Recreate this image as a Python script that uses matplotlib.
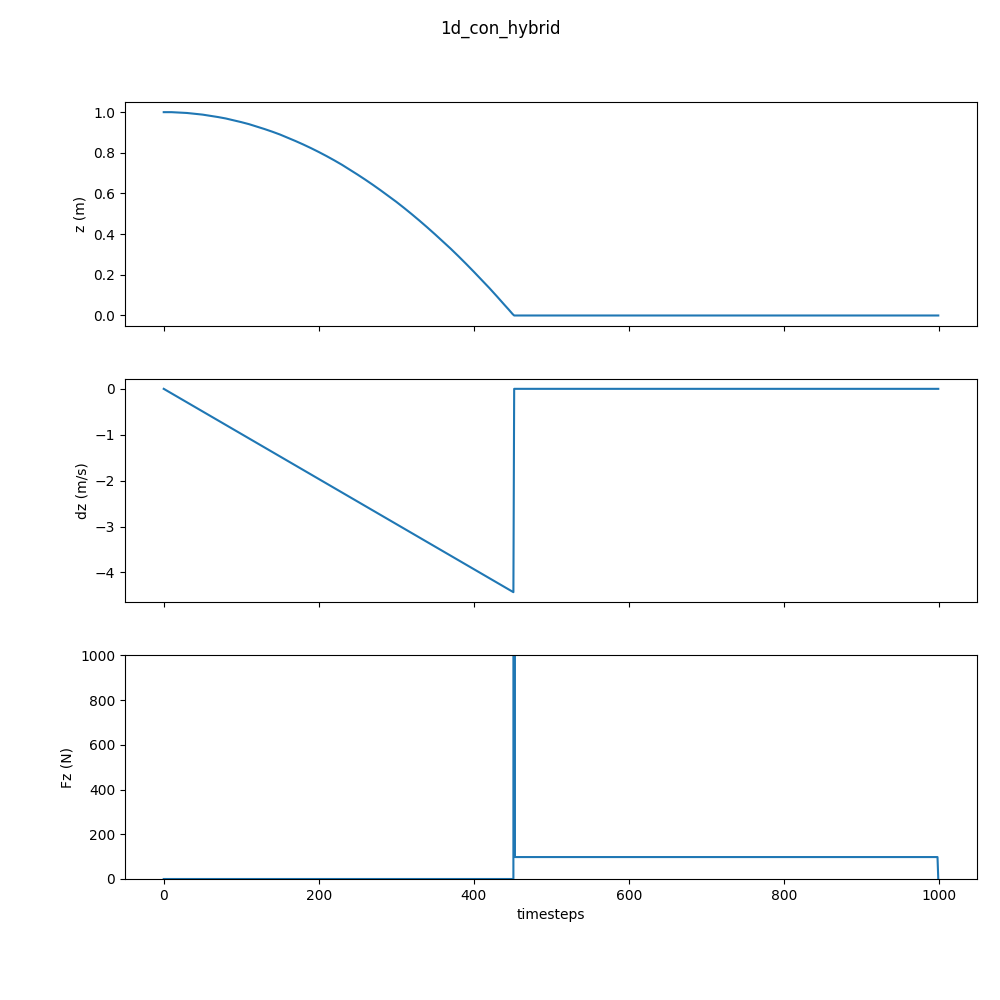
import matplotlib
matplotlib.use("Agg")
import matplotlib.pyplot as plt

# z (m) read at selected timesteps
z_t = [0, 10, 20, 30, 40, 50, 60, 70, 80, 90, 100, 110, 120, 130, 140, 150,
       160, 170, 180, 190, 200, 210, 220, 230, 240, 250, 260, 270, 280, 290,
       300, 310, 320, 330, 340, 350, 360, 370, 380, 390, 400, 410, 420, 430,
       440, 445, 450, 452, 999]
z_v = [1.000, 1.000, 0.998, 0.996, 0.992, 0.988, 0.982, 0.976, 0.969, 0.960,
       0.951, 0.941, 0.929, 0.917, 0.904, 0.890, 0.874, 0.858, 0.841, 0.823,
       0.804, 0.784, 0.763, 0.741, 0.717, 0.693, 0.668, 0.642, 0.615, 0.587,
       0.559, 0.529, 0.498, 0.466, 0.433, 0.399, 0.364, 0.329, 0.292, 0.254,
       0.215, 0.175, 0.135, 0.093, 0.050, 0.029, 0.007, 0.0, 0.0]

# dz (m/s)
dz_t = [0, 451, 452, 999]
dz_v = [0.0, -4.43, 0.0, 0.0]

# Fz (N)
fz_t = [0, 451, 452, 453, 998, 999]
fz_v = [0.0, 0.0, 44300.0, 98.1, 98.1, 0.0]

fig, axes = plt.subplots(3, 1, sharex=True, figsize=(10, 10), dpi=100)
fig.subplots_adjust(left=0.125, right=0.977, top=0.898, bottom=0.121, hspace=0.237)
fig.suptitle("1d_con_hybrid")

axes[0].plot(z_t, z_v)
axes[0].set_ylabel("z (m)")

axes[1].plot(dz_t, dz_v)
axes[1].set_ylabel("dz (m/s)")

axes[2].plot(fz_t, fz_v)
axes[2].set_ylim(0, 1000)
axes[2].set_ylabel("Fz (N)")
axes[2].set_xlabel("timesteps")

fig.savefig("out.png", dpi=100)
